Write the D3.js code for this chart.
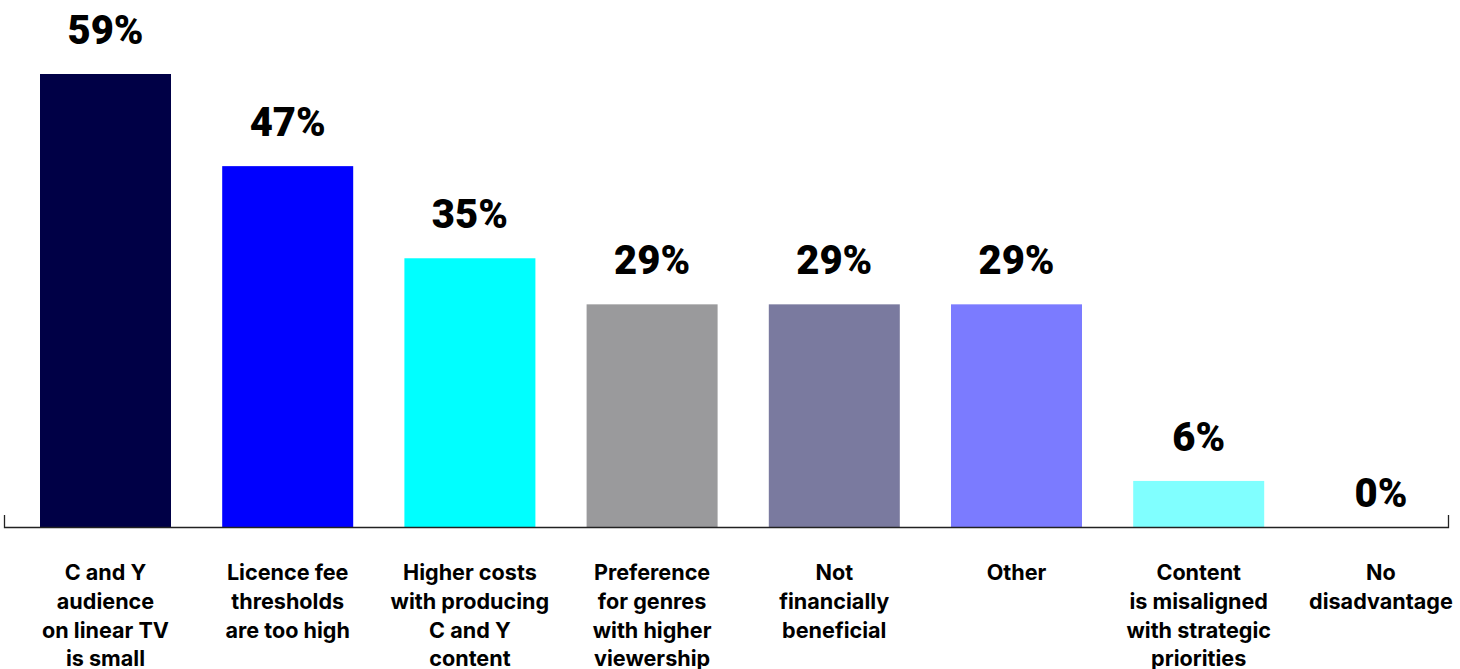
<!DOCTYPE html>
<html>
<head>
<meta charset="utf-8">
<script src="https://cdn.jsdelivr.net/npm/d3@7"></script>
<style>
  html, body { margin: 0; padding: 0; background: #ffffff; }
  svg { display: block; }
</style>
</head>
<body>
<script>
// Reasons given for disadvantages (share of respondents)
const categories = [
  ["C and Y", "audience", "on linear TV", "is small"],
  ["Licence fee", "thresholds", "are too high"],
  ["Higher costs", "with producing", "C and Y", "content"],
  ["Preference", "for genres", "with higher", "viewership"],
  ["Not", "financially", "beneficial"],
  ["Other"],
  ["Content", "is misaligned", "with strategic", "priorities"],
  ["No", "disadvantage"]
];
const values = [59, 47, 35, 29, 29, 29, 6, 0];
const barColors = ["#000046", "#0000ff", "#00ffff", "#9a9a9c", "#7a7a9f", "#7b7bff", "#80ffff", "#80ffff"];

const width = 1460, height = 669;
const baseY = 527;

const svg = d3.select("body").append("svg")
  .attr("width", width)
  .attr("height", height);

const x = d3.scaleBand()
  .domain(d3.range(values.length))
  .range([14.4, 1472])
  .paddingInner(0.281)
  .paddingOuter(0.1405);

const y = d3.scaleLinear()
  .domain([0, 59])
  .range([baseY, 74]);

// bars
svg.append("g").selectAll("rect")
  .data(values)
  .join("rect")
  .attr("x", (d, i) => x(i))
  .attr("y", d => y(d))
  .attr("width", x.bandwidth())
  .attr("height", d => baseY - y(d))
  .attr("fill", (d, i) => barColors[i]);

// baseline with end ticks
svg.append("path")
  .attr("d", `M4.5,515V${baseY + 0.5}H1448.5V515`)
  .attr("fill", "none")
  .attr("stroke", "#222")
  .attr("stroke-width", 1.3);

// value labels
svg.append("g").selectAll("text")
  .data(values)
  .join("text")
  .attr("x", (d, i) => x(i) + x.bandwidth() / 2)
  .attr("y", d => y(d) - (d > 0 ? 30 : 20))
  .attr("text-anchor", "middle")
  .attr("font-family", "Roboto, Inter, sans-serif")
  .attr("font-weight", 900)
  .attr("font-size", 40)
  .attr("fill", "#000")
  .text(d => d + "%");

// category labels
const lab = svg.append("g").selectAll("text")
  .data(categories)
  .join("text")
  .attr("x", (d, i) => x(i) + x.bandwidth() / 2)
  .attr("y", 580)
  .attr("text-anchor", "middle")
  .attr("font-family", "Inter, 'Liberation Sans', sans-serif")
  .attr("font-weight", 700)
  .attr("font-size", 21.6)
  .attr("fill", "#000");

lab.selectAll("tspan")
  .data(d => d)
  .join("tspan")
  .attr("x", function () { return d3.select(this.parentNode).attr("x"); })
  .attr("dy", (d, i) => i === 0 ? 0 : 28.8)
  .text(d => d);
</script>
</body>
</html>
